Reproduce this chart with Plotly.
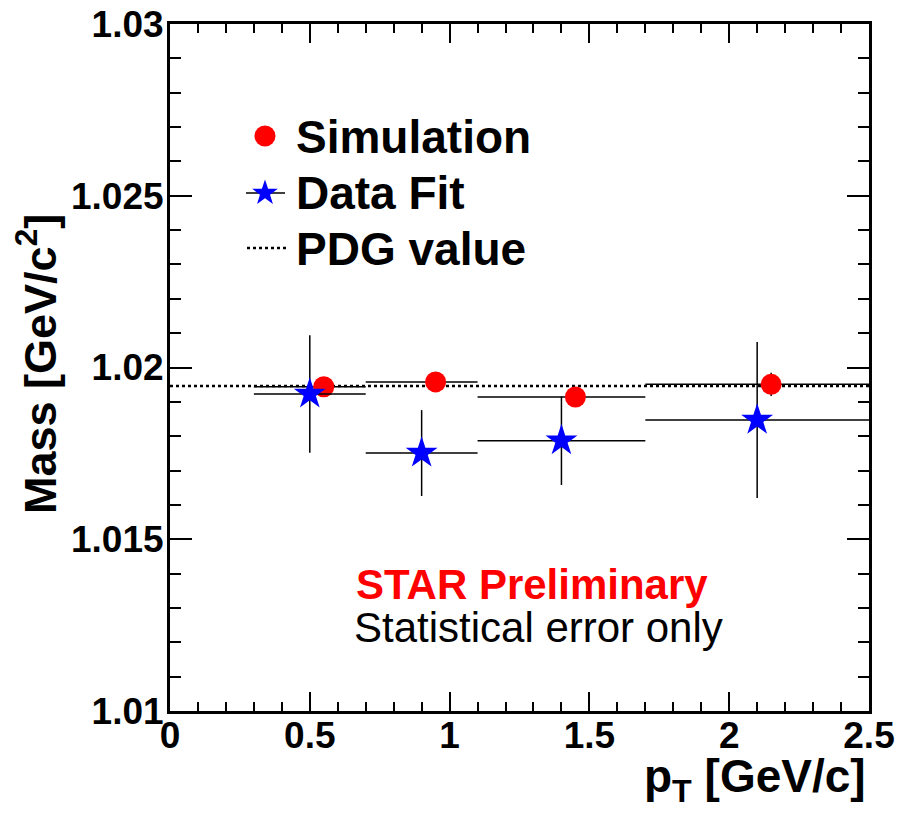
import math
import plotly.graph_objects as go

# ---- data ----
bin_lo = [0.3, 0.7, 1.1, 1.7]
bin_hi = [0.7, 1.1, 1.7, 2.5]

sim_pt = [0.55, 0.95, 1.45, 2.15]
sim_mass = [1.01944, 1.01958, 1.01914, 1.01951]
sim_err = [0.00015, 0.00015, 0.00015, 0.00034]

fit_pt = [0.5, 0.9, 1.4, 2.1]
fit_mass = [1.01923, 1.01751, 1.01787, 1.01847]
fit_err = [0.00171, 0.00125, 0.00129, 0.00227]

pdg_mass = 1.019461
x_range = [0.0, 2.5]
y_range = [1.01, 1.03]

x_tickvals = [0, 0.5, 1, 1.5, 2, 2.5]
x_ticktext = ["0", "0.5", "1", "1.5", "2", "2.5"]
y_tickvals = [1.01, 1.015, 1.02, 1.025, 1.03]
y_ticktext = ["1.01", "1.015", "1.02", "1.025", "1.03"]

legend_labels = ["Simulation", "Data Fit", "PDG value"]

FONT = "Liberation Sans, Arial, Helvetica, sans-serif"
RED, BLUE = "#ff0000", "#0000ff"

# plot-area geometry in pixels
W, H = 898, 816
L, R, T, B = 170, 29, 24, 105
PW, PH = W - L - R, H - T - B


def px(xp):
    return (xp - L) / PW


def py(yp):
    return 1 - (yp - T) / PH


fig = go.Figure()

fig.add_trace(go.Scatter(
    x=x_range, y=[pdg_mass, pdg_mass], mode="lines",
    line=dict(color="black", width=2.5, dash="dot"),
    name=legend_labels[2], hoverinfo="skip"))

fig.add_trace(go.Scatter(
    x=sim_pt, y=sim_mass, mode="markers", name=legend_labels[0],
    marker=dict(symbol="circle", size=21, color=RED, line=dict(width=0)),
    error_x=dict(type="data", symmetric=False,
                 array=[h - x for h, x in zip(bin_hi, sim_pt)],
                 arrayminus=[x - l for l, x in zip(bin_lo, sim_pt)],
                 color="black", thickness=1.5, width=0),
    error_y=dict(type="data", array=sim_err, color="black", thickness=1.5, width=0)))

fig.add_trace(go.Scatter(
    x=fit_pt, y=fit_mass, mode="markers", name=legend_labels[1],
    marker=dict(symbol="star", size=24, color=BLUE, line=dict(width=0)),
    error_x=dict(type="data", symmetric=False,
                 array=[h - x for h, x in zip(bin_hi, fit_pt)],
                 arrayminus=[x - l for l, x in zip(bin_lo, fit_pt)],
                 color="black", thickness=1.5, width=0),
    error_y=dict(type="data", array=fit_err, color="black", thickness=1.5, width=0)))

axis_common = dict(
    showline=True, linecolor="black", linewidth=3, mirror="ticks",
    ticks="inside", tickcolor="black", tickwidth=2, automargin=False,
    showgrid=False, zeroline=False, tickmode="array",
    tickfont=dict(family=FONT, size=37, color="black", weight="bold"),
)

fig.update_xaxes(
    **axis_common, range=x_range, tickvals=x_tickvals, ticktext=x_ticktext,
    ticklen=19, ticklabelstandoff=-10,
    minor=dict(ticks="inside", dtick=0.1, tick0=0, ticklen=9, tickwidth=2,
               tickcolor="black", showgrid=False))
fig.update_yaxes(
    **axis_common, range=y_range, tickvals=y_tickvals, ticktext=y_ticktext,
    ticklen=22, ticklabelstandoff=-4,
    minor=dict(ticks="inside", dtick=0.001, tick0=1.01, ticklen=11, tickwidth=2,
               tickcolor="black", showgrid=False))

annotations = [
    dict(text="<b>STAR Preliminary</b>", x=px(532), y=py(584),
         font=dict(family=FONT, size=42, color=RED)),
    dict(text="Statistical error only", x=px(538), y=py(627),
         font=dict(family=FONT, size=42, color="black")),
    dict(text="<b>p<sub>T</sub> [GeV/c]</b>", x=px(868), y=py(780),
         xanchor="right", font=dict(family=FONT, size=46, color="black")),
    dict(text="<b>Mass [GeV/c<sup>2</sup>]</b>", x=px(37), y=py(364),
         textangle=-90, font=dict(family=FONT, size=45, color="black")),
]

# ---- hand-drawn legend (ROOT-style, large markers) ----
leg_rows_y = [137, 193, 249]
for lab, yy in zip(legend_labels, leg_rows_y):
    annotations.append(dict(text="<b>%s</b>" % lab, x=px(294), y=py(yy),
                            xanchor="left",
                            font=dict(family=FONT, size=46, color="black")))
for a in annotations:
    a.setdefault("xanchor", "center")
    a.setdefault("yanchor", "middle")
    a.update(xref="paper", yref="paper", showarrow=False)


def star_path(ro, ri):
    pts = []
    for k in range(10):
        r = ro if k % 2 == 0 else ri
        ang = math.pi / 2 + k * math.pi / 5
        pts.append((r * math.cos(ang), r * math.sin(ang)))
    return "M" + "L".join("%.2f,%.2f" % p for p in pts) + "Z"


mx = 265
shapes = [
    dict(type="circle", xref="paper", yref="paper", xsizemode="pixel", ysizemode="pixel",
         xanchor=px(mx), yanchor=py(leg_rows_y[0] - 1), x0=-10.5, x1=10.5, y0=-10.5, y1=10.5,
         fillcolor=RED, line=dict(width=0)),
    dict(type="line", xref="paper", yref="paper", x0=px(246), x1=px(285),
         y0=py(leg_rows_y[1]), y1=py(leg_rows_y[1]), line=dict(color="black", width=1.5)),
    dict(type="path", xref="paper", yref="paper", xsizemode="pixel", ysizemode="pixel",
         xanchor=px(mx), yanchor=py(leg_rows_y[1]), path=star_path(13.5, 5.3),
         fillcolor=BLUE, line=dict(width=0)),
    dict(type="line", xref="paper", yref="paper", x0=px(247), x1=px(286),
         y0=py(leg_rows_y[2] - 1), y1=py(leg_rows_y[2] - 1),
         line=dict(color="black", width=2.5, dash="dot")),
]

fig.update_layout(
    width=W, height=H,
    margin=dict(l=L, r=R, t=T, b=B, pad=0, autoexpand=False),
    paper_bgcolor="white", plot_bgcolor="white",
    showlegend=False,
    annotations=annotations,
    shapes=shapes,
)

fig.write_html("out.html")
